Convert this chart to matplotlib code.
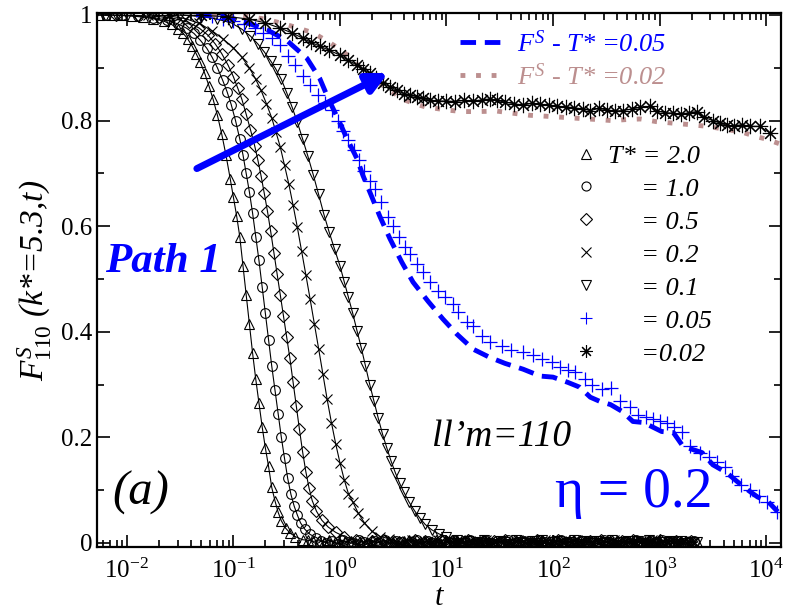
import numpy as np
import matplotlib.pyplot as plt
from matplotlib.lines import Line2D
from matplotlib.ticker import FixedLocator, LogLocator, MultipleLocator, FuncFormatter, NullFormatter

plt.rcParams['font.family'] = ['Liberation Serif', 'DejaVu Serif']
plt.rcParams['mathtext.fontset'] = 'custom'
plt.rcParams['mathtext.rm'] = 'Liberation Serif'
plt.rcParams['mathtext.it'] = 'Liberation Serif:italic'
plt.rcParams['mathtext.bf'] = 'Liberation Serif:bold'

# --- data: log10(t) and F ---
logt_T20 = [-2.25, -2.15, -2.05, -1.95, -1.85, -1.75, -1.65, -1.58, -1.52, -1.47, -1.43, -1.39, -1.35, -1.31,
            -1.27, -1.23, -1.19, -1.15, -1.11, -1.07, -1.03, -1.0, -0.97, -0.94, -0.91, -0.88, -0.85, -0.82,
            -0.79, -0.76, -0.73, -0.70, -0.67, -0.64, -0.61, -0.58, -0.55, -0.51, -0.47, -0.42]
F_T20 = [1.0, 1.0, 0.999, 0.998, 0.996, 0.993, 0.988, 0.982, 0.974, 0.965, 0.955, 0.942, 0.927, 0.91,
         0.89, 0.866, 0.84, 0.81, 0.775, 0.735, 0.69, 0.655, 0.62, 0.58, 0.525, 0.47, 0.415, 0.36,
         0.31, 0.265, 0.22, 0.18, 0.145, 0.105, 0.08, 0.058, 0.042, 0.028, 0.019, 0.012]

logt_T10 = [-2.2, -2.05, -1.9, -1.75, -1.62, -1.52, -1.44, -1.37, -1.31, -1.25, -1.2, -1.15, -1.1, -1.06,
            -1.02, -0.98, -0.94, -0.91, -0.88, -0.85, -0.82, -0.79, -0.76, -0.73, -0.70, -0.67, -0.64,
            -0.61, -0.58, -0.55, -0.52, -0.49, -0.46, -0.43, -0.40, -0.37, -0.33, -0.28, -0.22]
F_T10 = [1.0, 0.999, 0.998, 0.995, 0.99, 0.983, 0.975, 0.965, 0.952, 0.937, 0.92, 0.9, 0.876, 0.855,
         0.83, 0.8, 0.765, 0.735, 0.70, 0.665, 0.625, 0.58, 0.535, 0.485, 0.435, 0.385, 0.335,
         0.29, 0.245, 0.2, 0.16, 0.122, 0.092, 0.07, 0.053, 0.038, 0.026, 0.016, 0.01]

logt_T05 = [-2.1, -1.9, -1.7, -1.55, -1.42, -1.32, -1.24, -1.17, -1.11, -1.05, -1.0, -0.96, -0.92, -0.88,
            -0.84, -0.80, -0.77, -0.74, -0.71, -0.68, -0.65, -0.62, -0.59, -0.56, -0.53, -0.50, -0.47,
            -0.44, -0.41, -0.38, -0.35, -0.32, -0.29, -0.26, -0.22, -0.17, -0.11, -0.04, 0.04]
F_T05 = [1.0, 0.999, 0.997, 0.993, 0.986, 0.975, 0.962, 0.945, 0.927, 0.905, 0.883, 0.862, 0.84, 0.812,
         0.783, 0.752, 0.725, 0.695, 0.662, 0.628, 0.59, 0.55, 0.51, 0.47, 0.43, 0.39, 0.35,
         0.305, 0.26, 0.215, 0.172, 0.135, 0.104, 0.08, 0.06, 0.043, 0.03, 0.02, 0.012]

logt_T02 = [-1.8, -1.6, -1.45, -1.32, -1.2, -1.1, -1.0, -0.92, -0.85, -0.79, -0.74, -0.69, -0.64, -0.60,
            -0.56, -0.52, -0.48, -0.44, -0.40, -0.36, -0.32, -0.28, -0.24, -0.20, -0.16, -0.12, -0.08,
            -0.04, 0.0, 0.04, 0.08, 0.12, 0.17, 0.23, 0.30, 0.38, 0.46]
F_T02 = [1.0, 0.998, 0.993, 0.984, 0.97, 0.955, 0.938, 0.92, 0.9, 0.878, 0.857, 0.832, 0.805, 0.778,
         0.75, 0.715, 0.68, 0.64, 0.598, 0.553, 0.508, 0.462, 0.415, 0.368, 0.32, 0.272, 0.228,
         0.188, 0.152, 0.12, 0.093, 0.078, 0.057, 0.038, 0.022, 0.012, 0.008]

logt_T01 = [-1.5, -1.3, -1.15, -1.02, -0.92, -0.84, -0.77, -0.71, -0.65, -0.60, -0.55, -0.50, -0.45, -0.40,
            -0.35, -0.30, -0.25, -0.20, -0.15, -0.10, -0.05, 0.0, 0.04, 0.08, 0.12, 0.16, 0.20, 0.24,
            0.28, 0.32, 0.36, 0.40, 0.44, 0.48, 0.52, 0.56, 0.60, 0.65, 0.70, 0.75, 0.80, 0.86, 0.93, 1.0]
F_T01 = [1.0, 0.997, 0.992, 0.985, 0.973, 0.96, 0.945, 0.93, 0.913, 0.897, 0.878, 0.853, 0.826, 0.797,
         0.765, 0.732, 0.697, 0.66, 0.622, 0.588, 0.556, 0.525, 0.495, 0.465, 0.435, 0.402, 0.37, 0.335,
         0.3, 0.268, 0.236, 0.206, 0.18, 0.155, 0.133, 0.113, 0.096, 0.077, 0.061, 0.047, 0.035, 0.025, 0.017, 0.012]

logt_T005 = [-1.3, -1.2, -1.1, -1.0, -0.9, -0.8, -0.72, -0.64, -0.56, -0.49, -0.42, -0.35, -0.28, -0.21,
             -0.14, -0.075, -0.02, 0.03, 0.08, 0.13, 0.18, 0.23, 0.28, 0.33, 0.39, 0.45, 0.50, 0.55, 0.61,
             0.66, 0.72, 0.78, 0.85, 0.92, 0.99, 1.06, 1.11, 1.19, 1.25, 1.33, 1.41, 1.52, 1.61, 1.72,
             1.81, 1.90, 1.99, 2.07, 2.14, 2.21, 2.30, 2.37, 2.46, 2.54, 2.63, 2.72, 2.80, 2.87, 2.94,
             3.0, 3.07, 3.14, 3.21, 3.29, 3.38, 3.46, 3.54, 3.61, 3.68, 3.76, 3.85, 3.93, 4.01, 4.10]
F_T005 = [1.0, 0.998, 0.993, 0.988, 0.982, 0.975, 0.965, 0.956, 0.943, 0.922, 0.905, 0.885, 0.867, 0.848,
          0.834, 0.82, 0.8, 0.78, 0.763, 0.745, 0.726, 0.705, 0.686, 0.671, 0.646, 0.618, 0.6, 0.58, 0.56,
          0.548, 0.529, 0.513, 0.494, 0.477, 0.466, 0.452, 0.437, 0.418, 0.41, 0.392, 0.38, 0.373, 0.365, 0.361,
          0.356, 0.348, 0.342, 0.333, 0.328, 0.323, 0.31, 0.30, 0.291, 0.293, 0.268, 0.257, 0.243, 0.238, 0.234,
          0.231, 0.228, 0.22, 0.211, 0.183, 0.171, 0.162, 0.154, 0.143, 0.127, 0.11, 0.1, 0.089, 0.078, 0.059]

logt_T002 = [-1.6, -1.3, -1.05, -0.85, -0.7, -0.56, -0.45, -0.35, -0.27, -0.19, -0.1, 0.0, 0.08, 0.16,
             0.22, 0.28, 0.34, 0.40, 0.47, 0.535, 0.6, 0.66, 0.72, 0.78, 0.85, 0.92, 1.0, 1.08, 1.16,
             1.25, 1.33, 1.41, 1.47, 1.55, 1.63, 1.72, 1.8, 1.88, 1.96, 2.04, 2.12, 2.2, 2.28, 2.35,
             2.43, 2.51, 2.58, 2.66, 2.74, 2.82, 2.91, 2.98, 3.05, 3.13, 3.2, 3.28, 3.35, 3.42, 3.5,
             3.57, 3.63, 3.7, 3.77, 3.85, 3.94, 4.04]
F_T002 = [1.0, 0.999, 0.997, 0.992, 0.985, 0.975, 0.966, 0.956, 0.948, 0.941, 0.933, 0.924, 0.914, 0.905,
          0.897, 0.89, 0.88, 0.871, 0.864, 0.857, 0.851, 0.848, 0.845, 0.842, 0.838, 0.837, 0.837, 0.836, 0.838,
          0.837, 0.839, 0.841, 0.838, 0.835, 0.832, 0.829, 0.833, 0.831, 0.829, 0.827, 0.826, 0.824, 0.822, 0.819,
          0.823, 0.82, 0.818, 0.819, 0.822, 0.825, 0.827, 0.818, 0.815, 0.814, 0.812, 0.815, 0.817, 0.806, 0.8,
          0.795, 0.791, 0.79, 0.792, 0.789, 0.789, 0.776]

# self part F^S, T*=0.05 (dashed) and T*=0.02 (dotted)
logt_S005 = [-1.35, -1.1, -0.87, -0.685, -0.5, -0.31, -0.19, -0.11, -0.02, 0.066, 0.16, 0.216, 0.28, 0.376,
             0.47, 0.58, 0.686, 0.826, 0.967, 1.10, 1.25, 1.4, 1.55, 1.72, 1.88, 2.0, 2.14, 2.25, 2.35,
             2.44, 2.54, 2.65, 2.75, 2.85, 2.94, 3.02, 3.13, 3.22, 3.31, 3.40, 3.50, 3.63, 3.73, 3.83,
             3.92, 4.02, 4.11]
F_S005 = [1.0, 0.998, 0.985, 0.972, 0.952, 0.918, 0.88, 0.842, 0.804, 0.766, 0.728, 0.696, 0.665, 0.618,
          0.576, 0.532, 0.494, 0.458, 0.424, 0.395, 0.367, 0.352, 0.34, 0.329, 0.316, 0.314, 0.304, 0.295, 0.276,
          0.268, 0.262, 0.249, 0.23, 0.228, 0.219, 0.211, 0.209, 0.183, 0.177, 0.171, 0.148, 0.133, 0.116, 0.10,
          0.087, 0.078, 0.059]

logt_S002 = [-1.2, -1.0, -0.85, -0.7, -0.56, -0.42, -0.25, -0.1, 0.0, 0.07, 0.14, 0.22, 0.30, 0.38, 0.46,
             0.54, 0.62, 0.7, 0.8, 0.9, 1.0, 1.15, 1.3, 1.47, 1.62, 1.78, 1.95, 2.1, 2.25, 2.41, 2.55,
             2.7, 2.82, 2.97, 3.13, 3.3, 3.45, 3.6, 3.76, 3.9, 4.0, 4.14]
F_S002 = [1.0, 0.999, 0.997, 0.992, 0.985, 0.977, 0.966, 0.948, 0.935, 0.924, 0.91, 0.895, 0.882, 0.87, 0.858,
          0.848, 0.838, 0.832, 0.826, 0.823, 0.82, 0.817, 0.817, 0.818, 0.814, 0.81, 0.808, 0.806, 0.804, 0.802, 0.80,
          0.802, 0.803, 0.798, 0.795, 0.792, 0.789, 0.784, 0.779, 0.77, 0.765, 0.755]

# noisy long-time plateau near zero (two interleaved sets of read-off values)
tail_logt_a = [round(-0.40 + 0.05 * i, 3) for i in range(76)]
tail_F_a = [0.008, 0.006, 0.005, 0.003, 0.004, 0.002, 0.005, 0.001, -0.002, 0.003, 0.004, 0.000, -0.003, 0.002,
            0.005, 0.001, -0.001, 0.004, 0.002, -0.004, 0.003, 0.006, 0.000, -0.002, 0.004, 0.001, 0.005, -0.003,
            0.002, 0.000, 0.006, -0.001, 0.003, -0.004, 0.002, 0.005, 0.000, -0.002, 0.004, 0.001, -0.003, 0.006,
            0.002, -0.001, 0.003, 0.000, 0.005, -0.004, 0.002, 0.004, -0.002, 0.001, 0.006, -0.003, 0.003, 0.000,
            0.004, -0.001, 0.002, 0.005, -0.004, 0.001, 0.003, -0.002, 0.004, 0.000, 0.006, -0.003, 0.002, 0.001,
            0.004, -0.002, 0.003, 0.000, 0.002, 0.001]
tail_logt_b = [round(-0.375 + 0.05 * i, 3) for i in range(75)]
tail_F_b = [0.007, 0.004, 0.006, 0.002, 0.003, 0.000, 0.004, -0.002, 0.005, 0.001, -0.001, 0.006, 0.002, -0.003,
            0.003, 0.000, 0.005, -0.002, 0.004, 0.001, -0.004, 0.002, 0.005, -0.001, 0.003, 0.000, -0.003, 0.006,
            0.001, 0.004, -0.002, 0.002, 0.005, -0.001, 0.000, 0.004, -0.004, 0.003, 0.001, 0.006, -0.002, 0.002,
            0.004, -0.003, 0.000, 0.005, 0.001, -0.002, 0.003, 0.006, -0.001, 0.002, -0.004, 0.004, 0.001, 0.003,
            -0.002, 0.005, 0.000, -0.003, 0.002, 0.004, -0.001, 0.006, 0.001, -0.002, 0.003, 0.000, 0.005, -0.003,
            0.002, 0.004, -0.001, 0.001, 0.003]

arrow_start = (0.0454, 0.709)
arrow_end = (2.83, 0.89)

x_major = [1e-2, 1e-1, 1e0, 1e1, 1e2, 1e3, 1e4]


def with_tail(logt, F, tail_logt, tail_F):
    lt = list(logt)
    f = list(F)
    for a, b in zip(tail_logt, tail_F):
        if a > lt[-1] + 0.02:
            lt.append(a)
            f.append(b)
    return 10 ** np.array(lt), np.array(f)


fig = plt.figure(figsize=(7.92, 6.12), dpi=100)
ax = fig.add_axes([0.1225, 0.106, 0.8636, 0.873])

mk = dict(mfc='none', ms=7, mew=0.8, lw=0.8, color='black')
t, f = with_tail(logt_T20, F_T20, tail_logt_a, tail_F_a)
ax.plot(t, f, marker='^', **mk)
t, f = with_tail(logt_T10, F_T10, tail_logt_b, tail_F_b)
ax.plot(t, f, marker='o', **mk)
t, f = with_tail(logt_T05, F_T05, tail_logt_a, tail_F_b)
ax.plot(t, f, marker='D', **dict(mk, ms=6.5))
t, f = with_tail(logt_T02, F_T02, tail_logt_b, tail_F_a)
ax.plot(t, f, marker='x', **mk)
t, f = with_tail(logt_T01, F_T01, tail_logt_a, tail_F_a)
ax.plot(t, f, marker='v', **mk)

ax.plot(10 ** np.array(logt_T005), F_T005, ls='none', marker='+', ms=10, mew=0.9, color='blue')
ax.plot(10 ** np.array(logt_S005), F_S005, color='blue', lw=3.5, ls=(0, (3.2, 1.8)))
ax.plot(10 ** np.array(logt_S002), F_S002, color='#bc8f8f', lw=3.5, ls=(0, (1, 2.2)), dash_capstyle='butt')
ax.plot(10 ** np.array(logt_T002), F_T002, marker=(8, 2, 0), ms=11, mew=0.8, lw=0.8, color='black')

ax.annotate('', xy=arrow_end, xytext=arrow_start,
            arrowprops=dict(arrowstyle='-|>', color='blue', lw=5, mutation_scale=30, shrinkA=0, shrinkB=0))

ax.set_xscale('log')
ax.set_xlim(10 ** -2.28, 10 ** 4.14)
ax.set_ylim(-0.008, 1.004)
ax.xaxis.set_major_locator(FixedLocator(x_major))
ax.xaxis.set_minor_locator(LogLocator(base=10, subs=np.arange(2, 10), numticks=100))
ax.xaxis.set_minor_formatter(NullFormatter())
ax.yaxis.set_major_locator(MultipleLocator(0.2))
ax.yaxis.set_minor_locator(MultipleLocator(0.1))
ax.yaxis.set_major_formatter(FuncFormatter(lambda v, p: '%g' % round(v, 2)))
ax.tick_params(which='both', direction='in', top=True, right=True, labelsize=18, width=1.2)
ax.tick_params(which='major', length=9)
ax.tick_params(which='minor', length=5)
ax.tick_params(axis='x', pad=8)
for s in ax.spines.values():
    s.set_linewidth(1.6)

ax.set_xlabel('t', fontsize=22, fontstyle='italic', labelpad=0)
ax.set_ylabel(r'$F^{S}_{\mathit{110}}$ (k*=5.3,t)', fontsize=24, fontstyle='italic', labelpad=5)

ax.text(0.012, 0.534, 'Path 1', transform=ax.transAxes, color='blue', fontsize=31,
        fontweight='bold', fontstyle='italic', va='center', ha='left')
ax.text(0.022, 0.101, '(a)', transform=ax.transAxes, fontsize=35, fontstyle='italic', va='center')
ax.text(0.49, 0.206, 'll\u2019m=110', transform=ax.transAxes, fontsize=27, fontstyle='italic', va='center')
ax.text(0.67, 0.101, '\u03b7 = 0.2', transform=ax.transAxes, fontsize=40, color='blue', va='center')

h1 = [Line2D([], [], color='blue', lw=3.5, ls=(0, (3.2, 1.8))),
      Line2D([], [], color='#bc8f8f', lw=3.5, ls=(0, (1, 2.2)), dash_capstyle='butt')]
leg1 = ax.legend(h1, [r'$F^{S}$ - T* =0.05', r'$F^{S}$ - T* =0.02'], loc='upper left',
                 bbox_to_anchor=(0.531, 0.968), frameon=False, prop=dict(size=19, style='italic'),
                 labelcolor='linecolor', handlelength=1.7, handletextpad=0.45, labelspacing=0.25,
                 borderpad=0, borderaxespad=0)
ax.add_artist(leg1)

leg_markers = ['^', 'o', 'D', 'x', 'v', '+', (8, 2, 0)]
leg_colors = ['black', 'black', 'black', 'black', 'black', 'blue', 'black']
leg_sizes = [6.5, 6.5, 6.5, 6.5, 6.5, 9, 9]
leg_labels = ['T* = 2.0', '     = 1.0', '     = 0.5', '     = 0.2', '     = 0.1', '     = 0.05', '     =0.02']
h2 = [Line2D([], [], ls='none', marker=m, mfc='none', mec=c, ms=s, mew=0.8)
      for m, c, s in zip(leg_markers, leg_colors, leg_sizes)]
ax.legend(h2, leg_labels, loc='upper left', bbox_to_anchor=(0.699, 0.754), frameon=False,
          prop=dict(size=19, style='italic'), handlelength=0.8, handletextpad=0.45, labelspacing=0.36,
          borderpad=0, borderaxespad=0)

fig.savefig('out.png', dpi=100)
